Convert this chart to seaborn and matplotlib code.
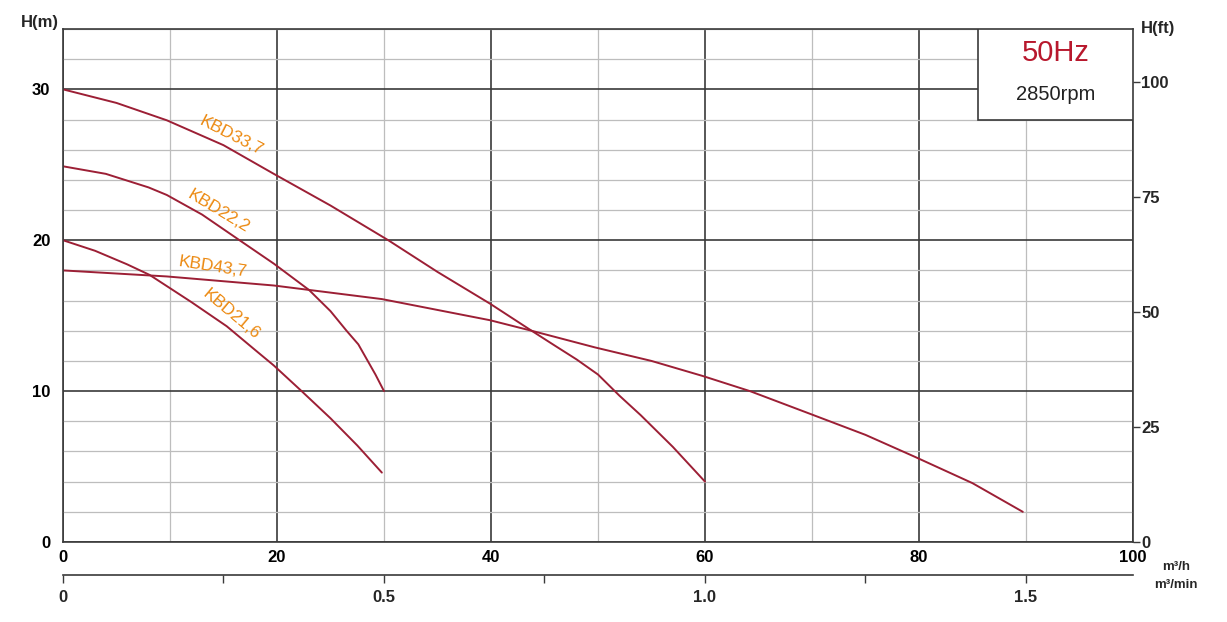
import seaborn as sns
import matplotlib.pyplot as plt
import pandas as pd
from matplotlib.ticker import MultipleLocator, FixedLocator, FuncFormatter

sns.set_style("white")
plt.rcParams['font.family'] = ['Liberation Sans', 'DejaVu Sans']

# curve data: flow (m3/h) vs head (m)
q_337 = [0, 5, 9.7, 15, 19.7, 25, 30.4, 35, 39.9, 43.8, 46, 48, 50, 52, 54, 57, 60]
h_337 = [30, 29.1, 27.95, 26.3, 24.4, 22.3, 20.0, 17.9, 15.8, 14.0, 13.0, 12.1, 11.1, 9.7, 8.4, 6.3, 4.0]
q_222 = [0, 4, 8, 9.7, 13, 16.5, 19.7, 23, 25, 26.5, 27.6, 28.4, 29.2, 30]
h_222 = [24.9, 24.4, 23.5, 23.0, 21.7, 20.0, 18.45, 16.7, 15.3, 14.0, 13.1, 12.1, 11.1, 10.0]
q_437 = [0, 9.7, 19.7, 29.8, 39.9, 43.8, 49.7, 55, 59.8, 64.2, 69.8, 75, 79.6, 85, 89.7]
h_437 = [18.0, 17.6, 17.0, 16.1, 14.7, 14.0, 12.9, 12.0, 11.0, 10.0, 8.5, 7.1, 5.65, 3.9, 2.0]
q_216 = [0, 3, 6, 8.1, 12, 15.3, 18, 19.7, 22.3, 25, 27.5, 29.8]
h_216 = [20.0, 19.3, 18.4, 17.7, 15.9, 14.3, 12.7, 11.7, 10.0, 8.2, 6.4, 4.6]

models = ["KBD33,7", "KBD22,2", "KBD43,7", "KBD21,6"]
flows = [q_337, q_222, q_437, q_216]
heads = [h_337, h_222, h_437, h_216]

df = pd.concat([pd.DataFrame({"flow": q, "head": h, "model": m})
                for q, h, m in zip(flows, heads, models)], ignore_index=True)

curve_color = "#9c1f35"
label_color = "#ec8a12"
dark = "#3a3a3a"
light = "#bdbdbd"
fs = 12

fig = plt.figure(figsize=(12.27, 6.22), dpi=100)
ax = fig.add_axes([63 / 1227, 1 - 542 / 622, (1133 - 63) / 1227, (542 - 29) / 622])

sns.lineplot(data=df, x="flow", y="head", units="model", estimator=None,
             color=curve_color, lw=1.4, sort=False, ax=ax, legend=False)

ax.set_xlim(0, 100)
ax.set_ylim(0, 34)
ax.xaxis.set_major_locator(MultipleLocator(20))
ax.xaxis.set_minor_locator(MultipleLocator(10))
ax.yaxis.set_major_locator(MultipleLocator(10))
ax.yaxis.set_minor_locator(MultipleLocator(2))
ax.grid(which="major", color=dark, lw=1.2)
ax.grid(which="minor", color=light, lw=0.9)
ax.set_axisbelow(True)
ax.tick_params(which="both", length=0, labelsize=fs, colors="black")
ax.tick_params(axis="x", pad=6)
ax.tick_params(axis="y", pad=9)
for lab in ax.get_xticklabels() + ax.get_yticklabels():
    lab.set_fontweight("bold")
ax.set_xlabel("")
ax.set_ylabel("")
for s in ax.spines.values():
    s.set_color(dark)
    s.set_linewidth(1.2)

# curve labels
label_pos = [(15.7, 26.9, -27), (14.5, 21.9, -31), (14.0, 18.2, -9), (15.7, 15.1, -40)]
for m, (x, y, r) in zip(models, label_pos):
    ax.text(x, y, m, color=label_color, fontsize=12.5, rotation=r,
            ha="center", va="center", rotation_mode="anchor")

# right axis in feet
ax2 = ax.twinx()
ax2.set_ylim(0, 34 * 3.2808)
ax2.set_yticks([0, 25, 50, 75, 100])
ax2.tick_params(axis="y", length=5, width=1, color=dark, labelsize=fs, pad=1)
for lab in ax2.get_yticklabels():
    lab.set_fontweight("bold")
for s in ax2.spines.values():
    s.set_visible(False)

# second flow axis in m3/min
sec = ax.secondary_xaxis(-33 / 513, functions=(lambda x: x / 60, lambda x: x * 60))
sec.xaxis.set_major_locator(FixedLocator([0, 0.25, 0.5, 0.75, 1.0, 1.25, 1.5]))
sec.xaxis.set_major_formatter(FuncFormatter(
    lambda v, p: "" if round(v * 4) % 2 == 1 else ("0" if v == 0 else f"{v:.1f}")))
sec.tick_params(length=6, width=1, color=dark, labelsize=fs, pad=5)
for lab in sec.get_xticklabels():
    lab.set_fontweight("bold")
sec.spines["bottom"].set_color(dark)
sec.spines["bottom"].set_linewidth(1.2)

# axis titles and units
fig.text(40 / 1227, 1 - 22 / 622, "H(m)", fontsize=fs, fontweight="bold", ha="center", va="center")
fig.text(1158 / 1227, 1 - 28 / 622, "H(ft)", fontsize=fs, fontweight="bold", ha="center", va="center")
fig.text(1176 / 1227, 1 - 567 / 622, "m³/h", fontsize=9.5, fontweight="bold", ha="center", va="center")
fig.text(1176 / 1227, 1 - 585 / 622, "m³/min", fontsize=9.5, fontweight="bold", ha="center", va="center")

# frequency / speed box
box_l, box_b = (978 - 63) / 1070, (542 - 120) / 513
ax.add_patch(plt.Rectangle((box_l, box_b), 1 - box_l, 1 - box_b, transform=ax.transAxes,
                           facecolor="white", edgecolor=dark, lw=1.2, zorder=3))
ax.text((box_l + 1) / 2, 1 - 24 / 513, "50Hz", transform=ax.transAxes, color="#b8182d",
        fontsize=21, ha="center", va="center", zorder=4)
ax.text((box_l + 1) / 2, 1 - 66 / 513, "2850rpm", transform=ax.transAxes, color="#222222",
        fontsize=14.5, ha="center", va="center", zorder=4)

fig.savefig("out.png", dpi=100)
plt.close(fig)
